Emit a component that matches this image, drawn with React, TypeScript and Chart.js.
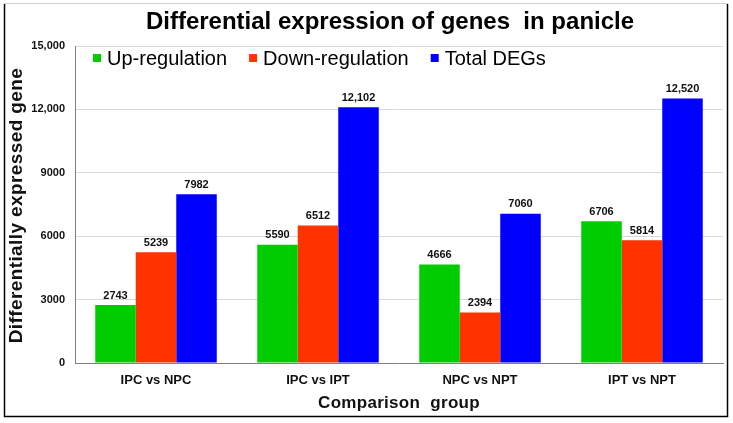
import React, { useEffect, useRef } from 'react';
import { Chart, registerables } from 'chart.js';

Chart.register(...registerables);

const categories = ['IPC vs NPC', 'IPC vs IPT', 'NPC vs NPT', 'IPT vs NPT'];
const upRegulation = [2743, 5590, 4666, 6706];
const downRegulation = [5239, 6512, 2394, 5814];
const totalDEGs = [7982, 12102, 7060, 12520];
const seriesNames = ['Up-regulation', 'Down-regulation', 'Total DEGs'];
const seriesColors = ['#00CC00', '#FF3300', '#0000FF'];
const yTickValues = [0, 3000, 6000, 9000, 12000, 15000];
const titleText = 'Differential expression of genes  in panicle';
const yTitle = 'Differentially expressed gene';
const xTitle = 'Comparison  group';

const FONT = '"Liberation Sans", Arial, Helvetica, sans-serif';
const fmt = (v: number) => (v >= 10000 ? v.toLocaleString('en-US') : String(v));

const decorPlugin = {
  id: 'decor',
  afterDraw(chart: any) {
    const { ctx, chartArea } = chart;
    ctx.save();
    // outer frame
    ctx.strokeStyle = '#d0d0d0';
    ctx.lineWidth = 1;
    ctx.beginPath();
    ctx.moveTo(4, 3.5);
    ctx.lineTo(728, 3.5);
    ctx.stroke();
    ctx.strokeStyle = '#000';
    ctx.lineWidth = 1.5;
    ctx.beginPath();
    ctx.moveTo(4.5, 4);
    ctx.lineTo(4.5, 416.5);
    ctx.lineTo(727.5, 416.5);
    ctx.lineTo(727.5, 4);
    ctx.stroke();

    // title
    ctx.fillStyle = '#000';
    ctx.font = `bold 24px ${FONT}`;
    ctx.textAlign = 'center';
    ctx.textBaseline = 'middle';
    ctx.fillText(titleText, 390, 22);

    // y axis title
    ctx.save();
    ctx.font = `bold 19px ${FONT}`;
    (ctx as any).letterSpacing = '0.4px';
    ctx.fillStyle = '#111';
    ctx.translate(17, (chartArea.top + chartArea.bottom) / 2 + 1);
    ctx.rotate(-Math.PI / 2);
    ctx.fillText(yTitle, 0, 0);
    ctx.restore();

    // x axis title
    ctx.save();
    ctx.font = `bold 17px ${FONT}`;
    (ctx as any).letterSpacing = '0.3px';
    ctx.fillStyle = '#111';
    ctx.fillText(xTitle, (chartArea.left + chartArea.right) / 2, 403);
    ctx.restore();

    // data labels
    ctx.font = `bold 11px ${FONT}`;
    ctx.fillStyle = '#111';
    ctx.textBaseline = 'bottom';
    chart.data.datasets.forEach((ds: any, i: number) => {
      const meta = chart.getDatasetMeta(i);
      meta.data.forEach((bar: any, j: number) => {
        ctx.fillText(fmt(ds.data[j]), bar.x, bar.y - 4);
      });
    });

    // legend
    ctx.font = `20px ${FONT}`;
    ctx.textAlign = 'left';
    ctx.textBaseline = 'middle';
    let x = 93;
    chart.data.datasets.forEach((ds: any) => {
      ctx.fillStyle = ds.backgroundColor;
      ctx.fillRect(x, 54, 8, 8);
      ctx.fillStyle = '#000';
      ctx.fillText(ds.label, x + 14, 59);
      x += 14 + ctx.measureText(ds.label).width + 22;
    });
    ctx.restore();
  },
};

export default function App() {
  const ref = useRef<HTMLCanvasElement>(null);
  useEffect(() => {
    document.body.style.margin = '0';
    const series = [upRegulation, downRegulation, totalDEGs];
    const chart = new Chart(ref.current as HTMLCanvasElement, {
      type: 'bar',
      data: {
        labels: categories,
        datasets: series.map((d, i) => ({
          label: seriesNames[i],
          data: d,
          backgroundColor: seriesColors[i],
          borderWidth: 0,
          categoryPercentage: 0.75,
          barPercentage: 1.0,
        })),
      },
      options: {
        animation: false,
        responsive: true,
        maintainAspectRatio: false,
        layout: { padding: { top: 46, right: 10, left: 0, bottom: 0 } },
        plugins: {
          legend: { display: false },
          title: { display: false },
          tooltip: { enabled: false },
        },
        scales: {
          x: {
            grid: { display: false, drawTicks: false },
            border: { display: true, color: '#7f7f7f', width: 1 },
            ticks: { color: '#111', padding: 10, font: { family: FONT, size: 13, weight: 'bold' } },
            title: { display: false },
            afterFit: (s: any) => {
              s.height = 60;
            },
          },
          y: {
            min: 0,
            max: 15000,
            afterBuildTicks: (s: any) => {
              s.ticks = yTickValues.map((v) => ({ value: v }));
            },
            grid: { color: '#d9d9d9', drawTicks: false },
            border: { display: true, color: '#7f7f7f', width: 1 },
            ticks: {
              color: '#111',
              padding: 10,
              font: { family: FONT, size: 11, weight: 'bold' },
              callback: (v: any) => fmt(Number(v)),
            },
            title: { display: false },
            afterFit: (s: any) => {
              s.width = 75;
            },
          },
        },
      },
      plugins: [decorPlugin],
    } as any);
    return () => chart.destroy();
  }, []);
  return (
    <div style={{ width: 733, height: 423, position: 'relative', background: '#fff' }}>
      <canvas ref={ref} />
    </div>
  );
}
